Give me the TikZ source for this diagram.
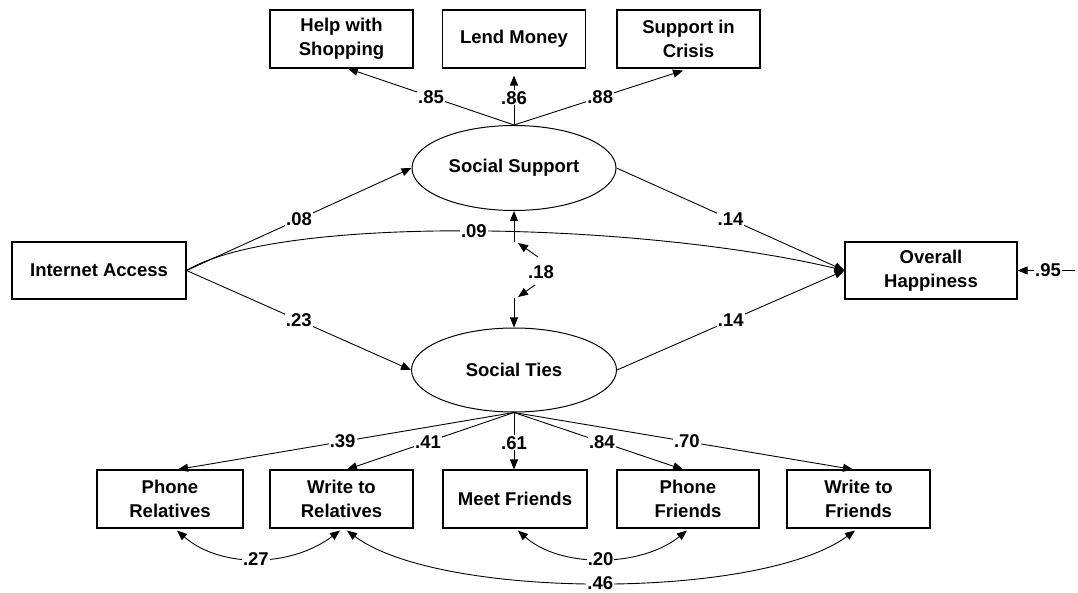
\documentclass[tikz,border=0pt]{standalone}
\usepackage{fontspec}
\setmainfont{Liberation Sans}
\usetikzlibrary{arrows.meta,shapes.geometric}
\begin{document}
\begin{tikzpicture}[x=1pt,y=-1pt,
  obs/.style={draw,line width=1.1pt,minimum width=143pt,minimum height=58pt,inner sep=0pt,align=center,font=\fontsize{18.5}{24}\selectfont\bfseries},
  lat/.style={draw,ellipse,line width=1pt,minimum width=204pt,minimum height=85pt,inner sep=0pt,font=\fontsize{18.5}{24}\selectfont\bfseries},
  arr/.style={line width=0.9pt,-{Triangle[length=10pt,width=8pt]}},
  cov/.style={line width=0.9pt,{Triangle[length=10pt,width=8pt]}-{Triangle[length=10pt,width=8pt]}},
  lbl/.style={fill=white,inner sep=1pt,font=\fontsize{18.5}{20}\selectfont\bfseries}]
\useasboundingbox (0,0) rectangle (1078,593);
% nodes
\node[obs] (shop) at (341.5,39) {Help with\\Shopping};
\node[obs] (lend) at (514,39) {Lend Money};
\node[obs] (crisis) at (688.5,39) {Support in\\Crisis};
\node[lat] (ss) at (514,168) {Social Support};
\node[obs,minimum width=174pt,minimum height=57pt] (ia) at (99,270.5) {Internet Access};
\node[obs,minimum width=172pt,minimum height=57pt] (oh) at (931,270.5) {Overall\\Happiness};
\node[lat,minimum height=84pt,minimum width=205pt] (st) at (514,370) {Social Ties};
\node[obs,minimum width=146pt] (pr) at (170,499) {Phone\\Relatives};
\node[obs] (wr) at (341.5,499) {Write to\\Relatives};
\node[obs,minimum width=144pt] (mf) at (515,499) {Meet Friends};
\node[obs,minimum width=142pt] (pf) at (688,499) {Phone\\Friends};
\node[obs] (wf) at (858.5,499) {Write to\\Friends};
% social support indicators
\draw[arr] (ss.north) -- node[lbl,pos=0.5]{.85} ([xshift=6.5pt]shop.south);
\draw[arr] (ss.north) -- node[lbl,pos=0.55]{.86} ([yshift=-7pt]lend.south);
\draw[arr] (ss.north) -- node[lbl,pos=0.51]{.88} ([xshift=-5.5pt,yshift=-2pt]crisis.south);
% structural paths
\draw[arr] (ia.east) -- node[lbl]{.08} (ss.west);
\draw[arr] (ia.east) -- node[lbl]{.23} (st.west);
\draw[arr] (ia.east) .. controls (280,214) and (640,222) .. node[lbl,pos=0.5]{.09} (oh.west);
\draw[arr] (ss.east) -- node[lbl]{.14} (oh.west);
\draw[arr] (st.east) -- node[lbl]{.14} (oh.west);
% residual
\coordinate (e95) at (1075,270.5);
\draw[arr] (e95) -- node[lbl,pos=0.47]{.95} (oh.east);
% covariance .18
\coordinate (k1) at (514,242);
\coordinate (k2) at (514,298);
\coordinate (a1) at (538,257);
\coordinate (t1) at (518,243);
\coordinate (a2) at (535,285);
\coordinate (t2) at (518,297);
\node[lbl,fill=none] (c18) at (541,272) {.18};
\draw[arr] (k1) -- (ss.south);
\draw[arr] (k2) -- (st.north);
\draw[arr] (a1) -- (t1);
\draw[arr] (a2) -- (t2);
% social ties indicators
\draw[arr] (st.south) -- node[lbl,pos=0.51]{.39} ([xshift=8pt]pr.north);
\draw[arr] (st.south) -- node[lbl,pos=0.515]{.41} ([xshift=5.5pt]wr.north);
\draw[arr] (st.south) -- node[lbl,pos=0.53]{.61} ([xshift=-1pt]mf.north);
\draw[arr] (st.south) -- node[lbl,pos=0.52]{.84} ([xshift=-5pt]pf.north);
\draw[arr] (st.south) -- node[lbl,pos=0.51]{.70} ([xshift=-5.5pt]wf.north);
% error covariances
\draw[cov] ([xshift=7pt,yshift=-2pt]pr.south) .. controls (220,568) and (290,568) .. node[lbl]{.27} ([xshift=-1.5pt,yshift=-2pt]wr.south);
\draw[cov] ([xshift=3pt,yshift=-2pt]mf.south) .. controls (560,568) and (640,568) .. node[lbl]{.20} ([xshift=-1pt,yshift=-2pt]pf.south);
\draw[cov] ([xshift=5.5pt,yshift=-2pt]wr.south) .. controls (440,600) and (760,600) .. node[lbl]{.46} ([xshift=-3.5pt,yshift=-2pt]wf.south);
\end{tikzpicture}
\end{document}
